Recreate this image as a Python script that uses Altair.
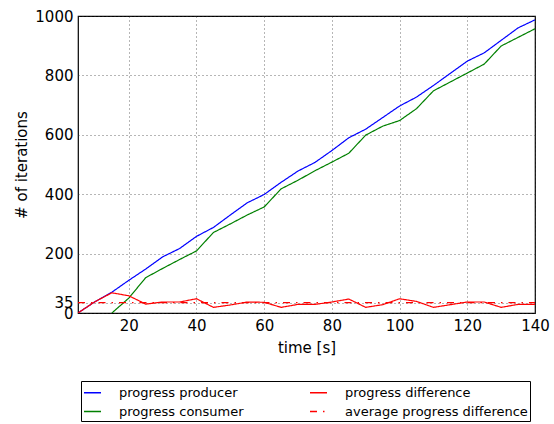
import altair as alt
import pandas as pd

time_s = [5, 10, 15, 20, 25, 30, 35, 40, 45, 50, 55, 60, 65, 70, 75, 80, 85, 90,
          95, 100, 105, 110, 115, 120, 125, 130, 135, 140]
producer = [0, 38, 70, 110, 148, 189, 217, 258, 288, 330, 371, 399, 440, 478, 507, 547,
            590, 619, 658, 697, 727, 766, 807, 848, 876, 918, 960, 987]
consumer_time = [15, 20, 25, 30, 35, 40, 45, 50, 55, 60, 65, 70, 75, 80, 85, 90, 95,
                 100, 105, 110, 115, 120, 125, 130, 135, 140]
consumer = [0, 50, 119, 150, 180, 209, 271, 300, 330, 357, 418, 447, 479, 508, 538, 599,
            629, 648, 688, 748, 778, 808, 838, 899, 928, 957]
difference = [0, 38, 68, 58, 30, 37, 37, 48, 19, 27, 37, 36, 19, 29, 29, 37, 47, 19,
              28, 48, 39, 19, 28, 37, 37, 19, 29, 29]
avg_difference = 35
avg_time = [5, 140]

series_names = ["progress producer", "progress consumer",
                "progress difference", "average progress difference"]
legend_order = series_names
series_colors = {"progress producer": "#0000ff", "progress consumer": "#008000",
                 "progress difference": "#ff0000", "average progress difference": "#ff0000"}
series_dash = {"progress producer": [1, 0], "progress consumer": [1, 0],
               "progress difference": [1, 0], "average progress difference": [7, 6, 1.5, 6]}

rows = []
for t, v in zip(time_s, producer):
    rows.append({"t": t, "v": v, "series": series_names[0], "k": 0})
for t, v in zip(consumer_time, consumer):
    rows.append({"t": t, "v": v, "series": series_names[1], "k": 1})
for t, v in zip(time_s, difference):
    rows.append({"t": t, "v": v, "series": series_names[2], "k": 2})
for t in avg_time:
    rows.append({"t": t, "v": avg_difference, "series": series_names[3], "k": 3})
df = pd.DataFrame(rows)

font = "DejaVu Sans"

chart = alt.Chart(df).mark_line(strokeWidth=1.2, clip=True).encode(
    x=alt.X("t:Q", title="time [s]",
            scale=alt.Scale(domain=[5, 140], nice=False, zero=False),
            axis=alt.Axis(values=[20, 40, 60, 80, 100, 120, 140], ticks=False,
                          labelPadding=5, titlePadding=7, domain=False,
                          grid=True, labelFlush=False, format="d")),
    y=alt.Y("v:Q", title="# of iterations",
            scale=alt.Scale(domain=[0, 1000], nice=False),
            axis=alt.Axis(values=[0, 35, 200, 400, 600, 800, 1000], ticks=False,
                          labelPadding=5, titlePadding=5, domain=False, format="d",
                          grid=True, labelOverlap=False, labelFlush=False)),
    color=alt.Color("series:N", title=None,
                    scale=alt.Scale(domain=legend_order,
                                    range=[series_colors[s] for s in legend_order]),
                    legend=alt.Legend(orient="none", legendX=3, legendY=365,
                                      columns=2, symbolType="stroke", symbolSize=289,
                                      symbolStrokeWidth=1.5, labelOffset=17,
                                      columnPadding=63, rowPadding=2, padding=2,
                                      labelFontSize=13, labelFont=font, labelLimit=300,
                                      labelColor="black",
                                      strokeColor="black", fillColor="white")),
    strokeDash=alt.StrokeDash("series:N", title=None,
                              scale=alt.Scale(domain=legend_order,
                                              range=[series_dash[s] for s in legend_order])),
    order=alt.Order("k:Q"),
    detail="k:Q",
).properties(
    width=457, height=297,
    background="white",
    autosize=alt.AutoSizeParams(type="none"),
    padding={"left": 78, "top": 16, "right": 18, "bottom": 111},
).configure_view(
    stroke="black", strokeWidth=1.2
).configure_axis(
    labelFont=font, titleFont=font, labelFontSize=15, titleFontSize=15,
    labelColor="black", titleColor="black", titleFontWeight="normal",
    gridColor="#333333", gridDash=[1, 3], gridWidth=0.8, gridOpacity=0.9,
)

chart.save("out.html", embed_options={"renderer": "svg", "actions": False})
